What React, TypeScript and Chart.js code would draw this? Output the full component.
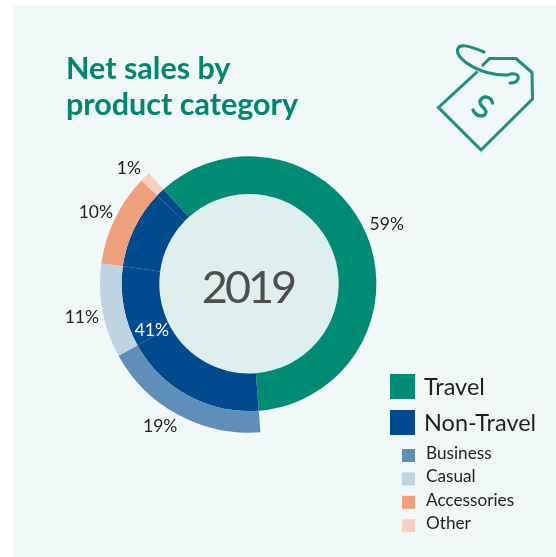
import React, { useEffect, useRef } from "react";
import { Chart, registerables } from "chart.js";

Chart.register(...registerables);

const categories = ["Travel", "Business", "Casual", "Accessories", "Other"];
const ringShares = [60.5, 18.2, 10.2, 10.0, 1.1];
const outerShares = [60.5, 18.2, 10.2, 10.0, 1.1];
const shownPercents = ["59%", "19%", "11%", "10%", "1%"];
const nonTravelPercent = "41%";
const innerColors = ["#008b75", "#004b8d", "#004b8d", "#004b8d", "#004b8d"];
const outerColors = ["rgba(0,0,0,0)", "#5f8fb9", "#bed4e3", "#ee9f7b", "#f7cfbd"];
const centerLabel = "2019";
const titleLines = ["Net sales by", "product category"];
const majorLegend = [
  { label: "Travel", color: "#008b75" },
  { label: "Non-Travel", color: "#004b8d" },
];
const minorLegend = [
  { label: "Business", color: "#5f8fb9" },
  { label: "Casual", color: "#bed4e3" },
  { label: "Accessories", color: "#ee9f7b" },
  { label: "Other", color: "#f7cfbd" },
];

const FONT = "Lato, sans-serif";
const labelNudges = [
  [0, 0],
  [-9, -5],
  [-2, 3],
  [-2, 2],
  [-3, 5],
];

const decor = {
  id: "decor",
  beforeDraw(chart: any) {
    const { ctx } = chart;
    ctx.save();
    ctx.fillStyle = "#f0f8f8";
    ctx.fillRect(13, 5, 543, 552);
    ctx.restore();
  },
  beforeDatasetsDraw(chart: any) {
    const { ctx } = chart;
    const arc = chart.getDatasetMeta(1).data[0];
    ctx.save();
    ctx.fillStyle = "#deefee";
    ctx.beginPath();
    ctx.arc(arc.x, arc.y, arc.innerRadius, 0, Math.PI * 2);
    ctx.fill();
    ctx.restore();
  },
  afterDatasetsDraw(chart: any) {
    const { ctx } = chart;
    const outer = chart.getDatasetMeta(0).data;
    const inner = chart.getDatasetMeta(1).data;
    const cx = inner[0].x;
    const cy = inner[0].y;
    ctx.save();
    ctx.textAlign = "center";
    ctx.textBaseline = "middle";

    ctx.font = `400 45px ${FONT}`;
    ctx.letterSpacing = "-3px";
    ctx.fillStyle = "#4d4f4f";
    ctx.fillText(centerLabel, cx - 1, cy + 5);
    ctx.letterSpacing = "0px";

    ctx.font = `400 17.5px ${FONT}`;
    ctx.fillStyle = "#231f20";
    const at = (a: number, r: number, text: string, nudge: number[]) =>
      ctx.fillText(text, cx + Math.cos(a) * r + nudge[0], cy + Math.sin(a) * r + nudge[1]);
    at((inner[0].startAngle + inner[0].endAngle) / 2, 150, shownPercents[0], labelNudges[0]);
    for (let i = 1; i < outer.length; i++) {
      at((outer[i].startAngle + outer[i].endAngle) / 2, 168, shownPercents[i], labelNudges[i]);
    }
    ctx.fillStyle = "#ffffff";
    at((inner[1].startAngle + inner[4].endAngle) / 2, 108, nonTravelPercent, [2, 4]);

    ctx.textAlign = "left";
    ctx.textBaseline = "alphabetic";
    ctx.font = `700 30.5px ${FONT}`;
    ctx.fillStyle = "#00856f";
    ctx.fillText(titleLines[0], 66, 79);
    ctx.fillText(titleLines[1], 66, 115);

    majorLegend.forEach((m, i) => {
      const y = 374 + i * 36;
      ctx.fillStyle = m.color;
      ctx.fillRect(390, y, 25, 25);
      ctx.fillStyle = "#231f20";
      ctx.font = `400 23.5px ${FONT}`;
      ctx.fillText(m.label, 424, y + 21);
    });
    minorLegend.forEach((m, i) => {
      const y = 449 + i * 23.4;
      ctx.fillStyle = m.color;
      ctx.fillRect(402, y, 13, 13);
      ctx.fillStyle = "#231f20";
      ctx.font = `400 17.2px ${FONT}`;
      ctx.fillText(m.label, 426, y + 10);
    });
    ctx.restore();
  },
};

export default function App() {
  const ref = useRef<HTMLCanvasElement>(null);
  useEffect(() => {
    const chart = new Chart(ref.current as HTMLCanvasElement, {
      type: "doughnut",
      data: {
        labels: categories,
        datasets: [
          { data: outerShares, backgroundColor: outerColors, borderWidth: 0, weight: 21.5 },
          { data: ringShares, backgroundColor: innerColors, borderWidth: 0, weight: 37.5 },
        ],
      },
      options: {
        responsive: false,
        animation: false,
        rotation: -42.2,
        cutout: 89.7,
        layout: { padding: { left: 100, right: 158, top: 134.7, bottom: 124.3 } },
        plugins: { legend: { display: false }, tooltip: { enabled: false } },
      },
      plugins: [decor],
    } as any);
    return () => chart.destroy();
  }, []);
  return (
    <div style={{ position: "fixed", left: 0, top: 0, width: 556, height: 557 }}>
      <canvas ref={ref} width={556} height={557} style={{ display: "block" }} />
      <svg
        viewBox="0 0 120 130"
        width={120}
        height={130}
        style={{ position: "absolute", left: 420, top: 30 }}
        fill="none"
        stroke="#1b8f7c"
        strokeWidth={3}
      >
        <path d="M57.5 41.5 L18.5 77.5 L61 120 L112.5 69 L112 42.5 L96 28.5 L69.5 28.5 L62 36" strokeLinejoin="miter" />
        <path d="M64 22 C52 17 39 12 37.5 20 C36 30 62 46 88 45 C94 42 100 45 98 49 C97 52 93 53 90 53" strokeLinecap="round" />
        <path d="M72.5 73 C71 66 63 65 60 71 C59 76 66 78 66 82 C65 88 56 87 53 80" strokeWidth={3.4} strokeLinecap="round" />
      </svg>
    </div>
  );
}
